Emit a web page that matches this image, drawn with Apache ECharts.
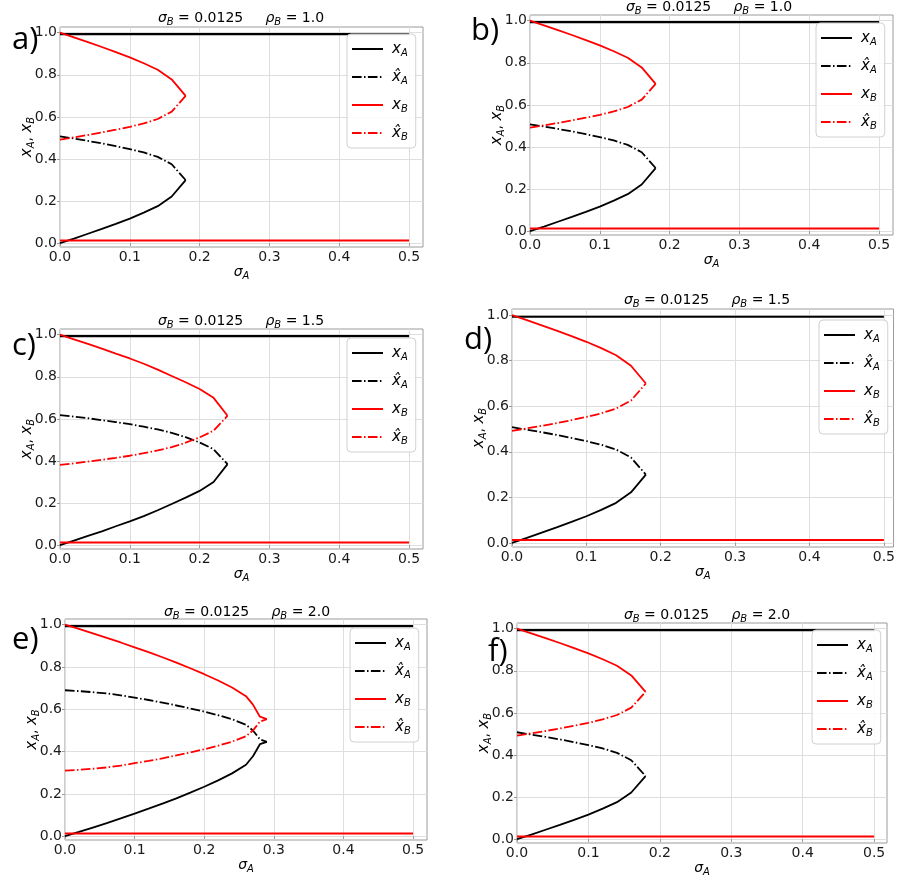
<!DOCTYPE html>
<html>
<head>
<meta charset="utf-8">
<script src="https://cdn.jsdelivr.net/npm/echarts@6/dist/echarts.min.js"></script>
<style>
  html, body { margin: 0; padding: 0; background: #fff; }
  #chart { width: 898px; height: 879px; }
</style>
</head>
<body>
<div id="chart"></div>
<script>
// tick labels
const xTicks = [0, 0.1, 0.2, 0.3, 0.4, 0.5]
const yTicks = [0, 0.2, 0.4, 0.6, 0.8, 1.0]

// flat branches, same in every panel
const sigFlat = [0, 0.5]
const xA_top = [0.993, 0.993]
const xB_bot = [0.013, 0.013]

// rho_B = 1.0 (also drawn in b, d, f)
const sig_r1 = [0, 0.02, 0.04, 0.06, 0.08, 0.10, 0.12, 0.14, 0.16, 0.18]
const xA_r1 = [0, 0.022, 0.045, 0.068, 0.092, 0.117, 0.145, 0.176, 0.222, 0.30]
const xAhat_r1 = [0.508, 0.497, 0.486, 0.474, 0.461, 0.447, 0.431, 0.41, 0.375, 0.30]
const xB_r1 = [1.0, 0.978, 0.955, 0.932, 0.908, 0.883, 0.855, 0.824, 0.778, 0.70]
const xBhat_r1 = [0.492, 0.503, 0.514, 0.526, 0.539, 0.553, 0.569, 0.59, 0.625, 0.70]

// rho_B = 1.5
const sig_r15 = [0, 0.02, 0.04, 0.06, 0.08, 0.10, 0.12, 0.14, 0.16, 0.18, 0.20, 0.22, 0.24]
const xA_r15 = [0, 0.022, 0.044, 0.066, 0.09, 0.113, 0.138, 0.166, 0.196, 0.226, 0.258, 0.30, 0.385]
const xAhat_r15 = [0.618, 0.611, 0.603, 0.594, 0.585, 0.575, 0.563, 0.55, 0.534, 0.513, 0.488, 0.456, 0.385]
const xB_r15 = [1.0, 0.978, 0.956, 0.934, 0.91, 0.887, 0.862, 0.834, 0.804, 0.774, 0.742, 0.70, 0.615]
const xBhat_r15 = [0.382, 0.389, 0.397, 0.406, 0.415, 0.425, 0.437, 0.45, 0.466, 0.487, 0.512, 0.544, 0.615]

// rho_B = 2.0
const sig_r2 = [0, 0.02, 0.04, 0.06, 0.08, 0.10, 0.12, 0.14, 0.16, 0.18, 0.20, 0.22, 0.24, 0.26, 0.27, 0.28, 0.29]
const xA_r2 = [0, 0.02, 0.041, 0.062, 0.084, 0.107, 0.13, 0.154, 0.179, 0.206, 0.234, 0.264, 0.297, 0.338, 0.378, 0.435, 0.446]
const xAhat_r2 = [0.69, 0.686, 0.681, 0.675, 0.666, 0.655, 0.644, 0.632, 0.618, 0.604, 0.589, 0.572, 0.553, 0.527, 0.50, 0.458, 0.446]
const xB_r2 = [1.0, 0.98, 0.959, 0.938, 0.916, 0.893, 0.87, 0.846, 0.821, 0.794, 0.766, 0.736, 0.703, 0.662, 0.622, 0.565, 0.554]
const xBhat_r2 = [0.31, 0.314, 0.319, 0.325, 0.334, 0.345, 0.356, 0.368, 0.382, 0.396, 0.411, 0.428, 0.447, 0.473, 0.50, 0.542, 0.554]

const sets = {
  r1: { sig: sig_r1, xA: xA_r1, xAhat: xAhat_r1, xB: xB_r1, xBhat: xBhat_r1 },
  r15: { sig: sig_r15, xA: xA_r15, xAhat: xAhat_r15, xB: xB_r15, xBhat: xBhat_r15 },
  r2: { sig: sig_r2, xA: xA_r2, xAhat: xAhat_r2, xB: xB_r2, xBhat: xBhat_r2 },
}

const panels = [
  { tag: 'a)', rho: '1.0', set: 'r1', grid: [60, 27, 363, 220], xMax: 0.52, title: [241, 18], tagAt: [12, 40], legend: [347, 34] },
  { tag: 'b)', rho: '1.0', set: 'r1', grid: [530, 15, 363, 220], xMax: 0.52, title: [709, 7], tagAt: [471, 31], legend: [816, 23] },
  { tag: 'c)', rho: '1.5', set: 'r15', grid: [60, 329, 363, 220], xMax: 0.52, title: [241, 321], tagAt: [12, 346], legend: [347, 338] },
  { tag: 'd)', rho: '1.5', set: 'r1', grid: [512, 309, 385, 238], xMax: 0.513, title: [707, 300], tagAt: [464, 340], legend: [819, 320] },
  { tag: 'e)', rho: '2.0', set: 'r2', grid: [65, 619, 362, 221], xMax: 0.52, title: [247, 612], tagAt: [12, 640], legend: [350, 628] },
  { tag: 'f)', rho: '2.0', set: 'r1', grid: [517, 623, 370, 220], xMax: 0.518, title: [707, 615], tagAt: [488, 652], legend: [812, 630] },
]

const mathRich = {
  i: { fontFamily: 'DejaVu Sans', fontStyle: 'italic', fontSize: 15, color: '#000', lineHeight: 20 },
  g: { fontFamily: 'DejaVu Sans', fontStyle: 'italic', fontSize: 14, color: '#000', lineHeight: 20 },
  s: { fontFamily: 'DejaVu Sans', fontStyle: 'italic', fontSize: 10, color: '#000', lineHeight: 10, padding: [8, 0, 0, 0] },
  n: { fontFamily: 'DejaVu Sans', fontSize: 14, color: '#000', lineHeight: 20 },
}

const legendText = {
  xA: '{i|x}{s|A}',
  xAhat: '{i|x̂}{s|A}',
  xB: '{i|x}{s|B}',
  xBhat: '{i|x̂}{s|B}',
}

const dashDot = [9.6, 2.4, 1.5, 2.4]
const BLACK = '#000000'
const RED = '#ff0000'

function pairs(xs, ys) {
  return xs.map((x, k) => [x, ys[k]])
}

const grid = [], xAxis = [], yAxis = [], series = [], legend = [], graphic = []

panels.forEach((p, i) => {
  const d = sets[p.set]
  grid.push({
    left: p.grid[0], top: p.grid[1], width: p.grid[2], height: p.grid[3],
    show: true, borderColor: '#9a9a9a', borderWidth: 1, backgroundColor: '#fff',
  })
  xAxis.push({
    type: 'value', gridIndex: i, min: 0, max: p.xMax,
    name: '{g|σ}{s|A}', nameLocation: 'middle', nameGap: 15, nameMoveOverlap: false,
    nameTextStyle: { rich: mathRich },
    axisLine: { show: false },
    axisTick: { show: true, length: 3, lineStyle: { color: '#9a9a9a' }, customValues: xTicks },
    axisLabel: { customValues: xTicks, fontFamily: 'DejaVu Sans', fontSize: 14, color: '#1a1a1a', margin: 3, formatter: v => v.toFixed(1) },
    splitLine: { show: true, lineStyle: { color: '#dedede', width: 1 } },
  })
  yAxis.push({
    type: 'value', gridIndex: i, min: -0.018, max: 1.027,
    name: '{i|x}{s|A}{n|, }{i|x}{s|B}', nameLocation: 'middle', nameGap: 23, nameMoveOverlap: false,
    nameTextStyle: { rich: mathRich },
    axisLine: { show: false },
    axisTick: { show: true, length: 3, lineStyle: { color: '#9a9a9a' }, customValues: yTicks },
    axisLabel: { customValues: yTicks, fontFamily: 'DejaVu Sans', fontSize: 14, color: '#1a1a1a', margin: 3, formatter: v => v.toFixed(1) },
    splitLine: { show: true, lineStyle: { color: '#dedede', width: 1 } },
  })

  const base = { type: 'line', xAxisIndex: i, yAxisIndex: i, symbol: 'none', animation: false, z: 3 }
  series.push(
    { ...base, name: 'xA', data: pairs(d.sig, d.xA), lineStyle: { color: BLACK, width: 1.8 }, itemStyle: { color: BLACK } },
    { ...base, name: 'xA', data: pairs(sigFlat, xA_top), lineStyle: { color: BLACK, width: 2.2 }, itemStyle: { color: BLACK } },
    { ...base, name: 'xAhat', data: pairs(d.sig, d.xAhat), lineStyle: { color: BLACK, width: 1.8, type: dashDot }, itemStyle: { color: BLACK } },
    { ...base, name: 'xB', data: pairs(d.sig, d.xB), lineStyle: { color: RED, width: 1.8 }, itemStyle: { color: RED } },
    { ...base, name: 'xB', data: pairs(sigFlat, xB_bot), lineStyle: { color: RED, width: 2 }, itemStyle: { color: RED } },
    { ...base, name: 'xBhat', data: pairs(d.sig, d.xBhat), lineStyle: { color: RED, width: 1.8, type: dashDot }, itemStyle: { color: RED } },
  )

  legend.push({
    left: p.legend[0], top: p.legend[1], orient: 'vertical',
    data: ['xA', 'xAhat', 'xB', 'xBhat'],
    itemWidth: 31, itemHeight: 14, itemGap: 10,
    padding: [6, 8, 6, 4],
    backgroundColor: 'rgba(255,255,255,0.85)', borderColor: '#d0d0d0', borderWidth: 1, borderRadius: 4,
    selectedMode: false, z: 5,
    itemStyle: { opacity: 0 },
    formatter: name => legendText[name],
    textStyle: { rich: mathRich, padding: [0, 0, 0, 4] },
  })

  graphic.push({
    type: 'text', x: p.title[0], y: p.title[1], z: 10,
    style: {
      text: '{g|σ}{s|B}{n| = 0.0125     }{g|ρ}{s|B}{n| = ' + p.rho + '}',
      rich: mathRich, align: 'center', verticalAlign: 'middle',
    },
  })
  graphic.push({
    type: 'text', x: p.tagAt[0], y: p.tagAt[1], z: 10,
    style: {
      text: p.tag, fontFamily: 'Open Sans', fontSize: 31, fill: '#000',
      align: 'left', verticalAlign: 'middle',
    },
  })
})

const chart = echarts.init(document.getElementById('chart'), null, { renderer: 'canvas' })
chart.setOption({
  backgroundColor: '#fff',
  animation: false,
  grid, xAxis, yAxis, series, legend, graphic,
})
</script>
</body>
</html>
